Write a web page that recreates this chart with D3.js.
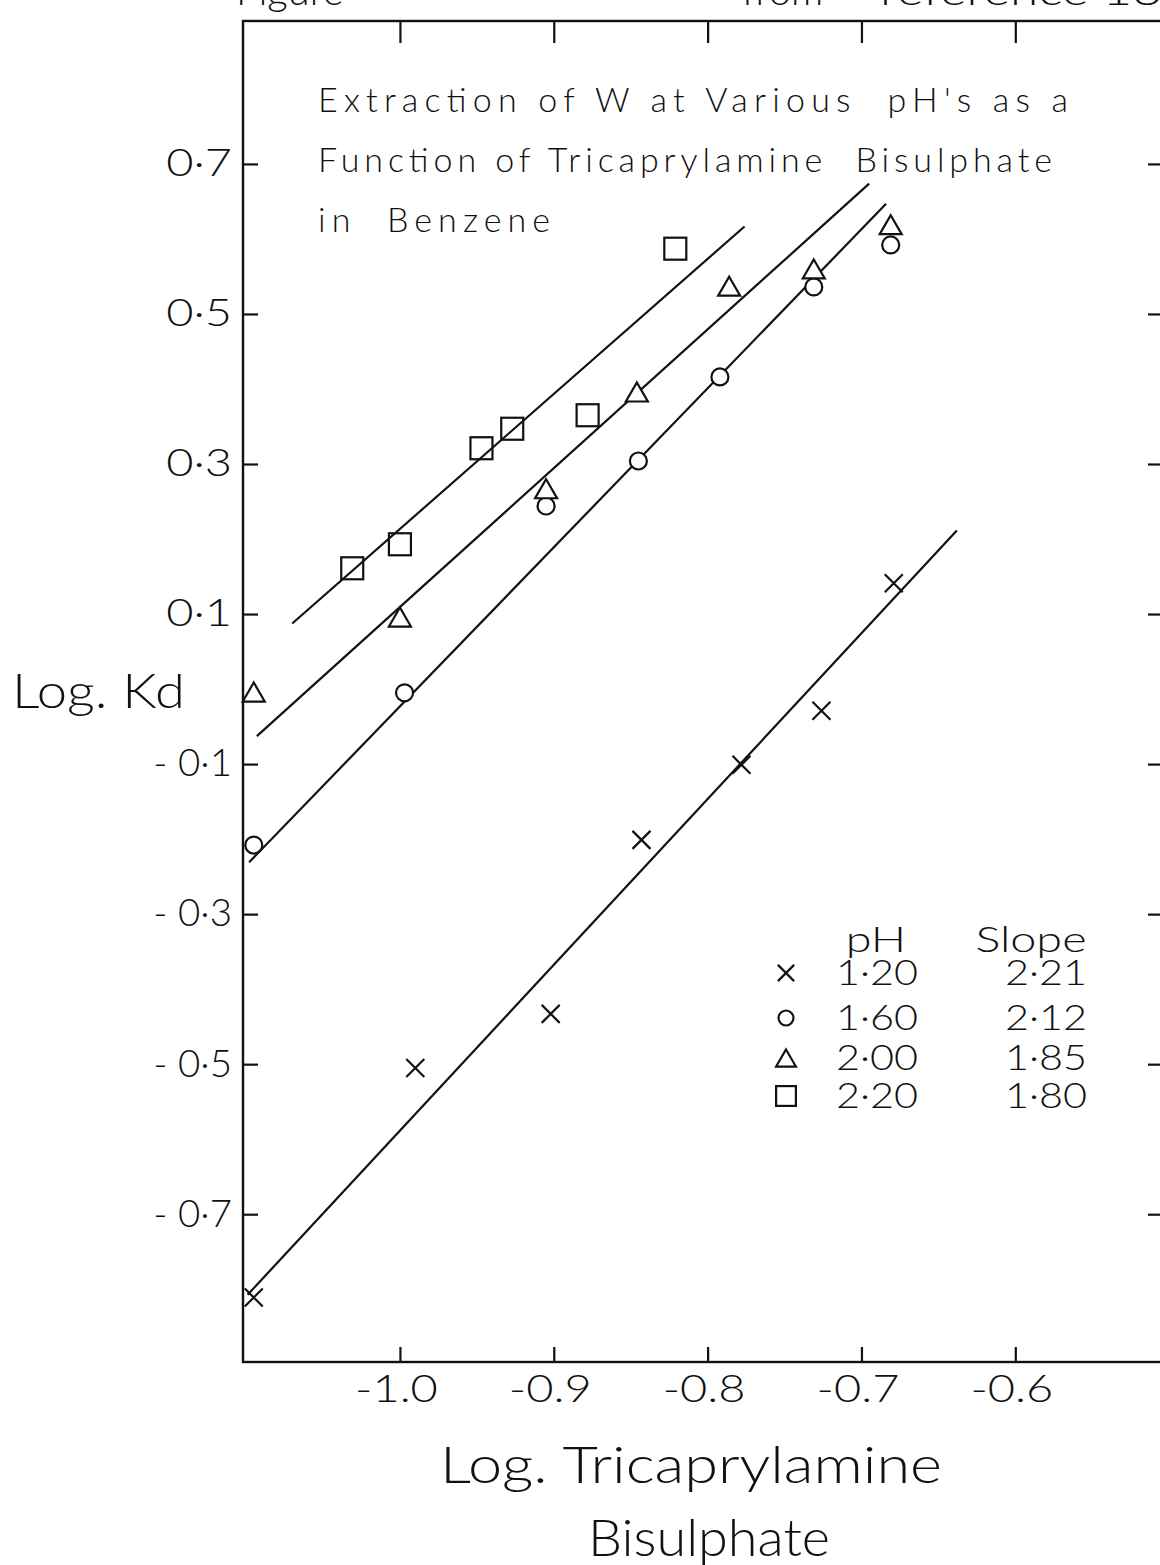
<!DOCTYPE html>
<html>
<head>
<meta charset="utf-8">
<script src="https://cdn.jsdelivr.net/npm/d3@7"></script>
<style>
  html, body { margin: 0; padding: 0; background: #fff; }
  svg { display: block; }
  .lbl { font-family: Lato, "Open Sans", sans-serif; font-weight: 300; fill: #111; }
  .ttl { font-family: Lato, "Open Sans", sans-serif; font-weight: 300; fill: #111; }
</style>
</head>
<body>
<script>
// Axis ticks
const xTicks = [-1.0, -0.9, -0.8, -0.7, -0.6];
const yTicks = [0.7, 0.5, 0.3, 0.1, -0.1, -0.3, -0.5, -0.7];

// Series: pH values and fitted slopes
const phLabels = ["1·20", "1·60", "2·00", "2·20"];
const slopeLabels = ["2·21", "2·12", "1·85", "1·80"];
const slopes = [2.21, 2.12, 1.85, 1.80];
const symbolKinds = ["cross", "circle", "triangle", "square"];

// Measured points (log tricaprylamine bisulphate, log Kd)
const crossX = [-1.095, -0.990, -0.902, -0.843, -0.778, -0.726, -0.679];
const crossY = [-0.811, -0.505, -0.433, -0.201, -0.101, -0.029, 0.141];
const circleX = [-1.095, -0.997, -0.905, -0.845, -0.792, -0.731, -0.681];
const circleY = [-0.208, -0.005, 0.244, 0.304, 0.416, 0.536, 0.592];
const triX = [-1.095, -1.000, -0.905, -0.846, -0.786, -0.731, -0.681];
const triY = [-0.004, 0.096, 0.267, 0.396, 0.537, 0.560, 0.619];
const sqX = [-1.031, -1.000, -0.947, -0.927, -0.878, -0.821];
const sqY = [0.161, 0.193, 0.321, 0.347, 0.365, 0.587];

// Fitted lines: x extent and a point the line passes through
const fitX0 = [-1.099, -1.098, -1.093, -1.070];
const fitX1 = [-0.638, -0.684, -0.695, -0.776];
const fitMidX = [-0.8685, -0.891, -0.894, -0.923];
const fitMidY = [-0.298, 0.208, 0.3055, 0.352];

const W = 1160, H = 1565;
const plotL = 243, plotT = 21, plotR = 1163, plotB = 1362;

const svg = d3.select("body").append("svg")
  .attr("width", W).attr("height", H)
  .attr("viewBox", `0 0 ${W} ${H}`);

const x = d3.scaleLinear().domain([-1.102, -0.504]).range([plotL, plotR]);
const y = d3.scaleLinear().domain([-0.897, 0.8905]).range([plotB, plotT]);

const ink = "#111";

// Stretch lettering horizontally to the wide stencil proportions
function widen(sel, f) {
  sel.each(function () {
    const w = this.getComputedTextLength();
    d3.select(this).attr("textLength", w * f).attr("lengthAdjust", "spacingAndGlyphs");
  });
}

// Frame
svg.append("rect")
  .attr("x", plotL).attr("y", plotT)
  .attr("width", plotR - plotL).attr("height", plotB - plotT)
  .attr("fill", "none").attr("stroke", ink).attr("stroke-width", 2.4);

const fmtY = v => (v < 0 ? "- " : "") + Math.abs(v).toFixed(1).replace(".", "·");
const fmtX = v => "-" + Math.abs(v).toFixed(1);

// Left axis with inward ticks
const gy = svg.append("g").attr("transform", `translate(${plotL},0)`)
  .call(d3.axisLeft(y).tickValues(yTicks).tickSizeInner(-15).tickSizeOuter(0).tickPadding(11).tickFormat(fmtY));
// Right axis ticks only
const gyr = svg.append("g").attr("transform", `translate(${plotR},0)`)
  .call(d3.axisRight(y).tickValues(yTicks).tickSizeInner(-15).tickSizeOuter(0).tickFormat(""));
// Bottom axis
const gx = svg.append("g").attr("transform", `translate(0,${plotB})`)
  .call(d3.axisBottom(x).tickValues(xTicks).tickSizeInner(-15).tickSizeOuter(0).tickPadding(14).tickFormat(fmtX));
// Top axis ticks only
const gxt = svg.append("g").attr("transform", `translate(0,${plotT})`)
  .call(d3.axisTop(x).tickValues(xTicks).tickSizeInner(-22).tickSizeOuter(0).tickFormat(""));

[gy, gyr, gx, gxt].forEach(g => {
  g.select(".domain").remove();
  g.selectAll(".tick line").attr("stroke", ink).attr("stroke-width", 2.2);
  g.selectAll("text").attr("class", "lbl").attr("font-size", 37).attr("fill", ink);
});
gx.selectAll("text").attr("dx", -4);
// Round, wide digits: positive labels stretched more than the dashed negatives
gy.selectAll(".tick text").each(function (d) {
  widen(d3.select(this), d < 0 ? 1.04 : 1.27);
});
widen(gx.selectAll("text"), 1.27);

// Fitted lines from slope and anchor point
const lineGen = d3.line().x(d => x(d[0])).y(d => y(d[1]));
slopes.forEach((m, i) => {
  const yAt = xv => fitMidY[i] + m * (xv - fitMidX[i]);
  svg.append("path")
    .attr("d", lineGen([[fitX0[i], yAt(fitX0[i])], [fitX1[i], yAt(fitX1[i])]]))
    .attr("fill", "none").attr("stroke", ink).attr("stroke-width", 2.2);
});

// Marker drawing
function marker(g, kind, cx, cy, s) {
  if (kind === "cross") {
    const h = 9 * s;
    g.append("path").attr("d", `M${cx - h},${cy - h}L${cx + h},${cy + h}M${cx - h},${cy + h}L${cx + h},${cy - h}`)
      .attr("stroke", ink).attr("stroke-width", 2.2).attr("fill", "none");
  } else if (kind === "circle") {
    g.append("circle").attr("cx", cx).attr("cy", cy).attr("r", 8.5 * s)
      .attr("stroke", ink).attr("stroke-width", 2.2).attr("fill", "#fff");
  } else if (kind === "triangle") {
    const hw = 11 * s, hh = 9.5 * s;
    g.append("path").attr("d", `M${cx},${cy - hh}L${cx + hw},${cy + hh}L${cx - hw},${cy + hh}Z`)
      .attr("stroke", ink).attr("stroke-width", 2.2).attr("fill", "#fff");
  } else {
    const h = 11 * s;
    g.append("rect").attr("x", cx - h).attr("y", cy - h).attr("width", 2 * h).attr("height", 2 * h)
      .attr("stroke", ink).attr("stroke-width", 2.2).attr("fill", "none");
  }
}

const seriesX = [crossX, circleX, triX, sqX];
const seriesY = [crossY, circleY, triY, sqY];
const gm = svg.append("g");
seriesX.forEach((xs, i) => {
  xs.forEach((xv, j) => marker(gm, symbolKinds[i], x(xv), y(seriesY[i][j]), 1));
});

// Title block inside the plot
const titleLines = ["Extraction of W at Various  pH's as a", "Function of Tricaprylamine  Bisulphate", "in  Benzene"];
const titleLen = [750, 734, 232];
titleLines.forEach((t, i) => {
  svg.append("text").attr("class", "ttl")
    .attr("x", 318).attr("y", 112 + i * 60)
    .attr("font-size", 34)
    .attr("textLength", titleLen[i]).attr("lengthAdjust", "spacing")
    .style("white-space", "pre")
    .text(t);
});

// Legend
const lg = svg.append("g");
const hdr = lg.append("g");
hdr.append("text").attr("class", "lbl").attr("font-size", 36).attr("x", 876).attr("y", 952).attr("text-anchor", "middle").text("pH");
hdr.append("text").attr("class", "lbl").attr("font-size", 36).attr("x", 1031).attr("y", 952).attr("text-anchor", "middle").text("Slope");
widen(hdr.selectAll("text"), 1.3);
const rowY = [985, 1030, 1070, 1108];
const rows = lg.append("g");
phLabels.forEach((p, i) => {
  marker(lg, symbolKinds[i], 786, rowY[i] - 12, symbolKinds[i] === "circle" ? 0.88 : 0.9);
  rows.append("text").attr("class", "lbl").attr("font-size", 36).attr("x", 836).attr("y", rowY[i]).text(p);
  rows.append("text").attr("class", "lbl").attr("font-size", 36).attr("x", 1087).attr("y", rowY[i]).attr("text-anchor", "end").text(slopeLabels[i]);
});
widen(rows.selectAll("text"), 1.15);

// Axis titles
svg.append("text").attr("class", "lbl").attr("font-size", 48).attr("x", 12).attr("y", 708)
  .attr("textLength", 173).attr("lengthAdjust", "spacingAndGlyphs").text("Log. Kd");
svg.append("text").attr("class", "lbl").attr("font-size", 52).attr("x", 440).attr("y", 1483)
  .attr("textLength", 502).attr("lengthAdjust", "spacingAndGlyphs").text("Log. Tricaprylamine");
svg.append("text").attr("class", "lbl").attr("font-size", 52).attr("x", 588).attr("y", 1556)
  .attr("textLength", 242).attr("lengthAdjust", "spacingAndGlyphs").text("Bisulphate");

// Page caption above the frame (mostly outside the page)
svg.append("text").attr("class", "lbl").attr("font-size", 40).attr("x", 236).attr("y", 5).text("Figure");
svg.append("text").attr("class", "lbl").attr("font-size", 40).attr("x", 742).attr("y", 5).text("from");
svg.append("text").attr("class", "lbl").attr("font-size", 40).attr("x", 880).attr("y", 5)
  .attr("textLength", 282).attr("lengthAdjust", "spacingAndGlyphs").text("reference 18");
</script>
</body>
</html>
